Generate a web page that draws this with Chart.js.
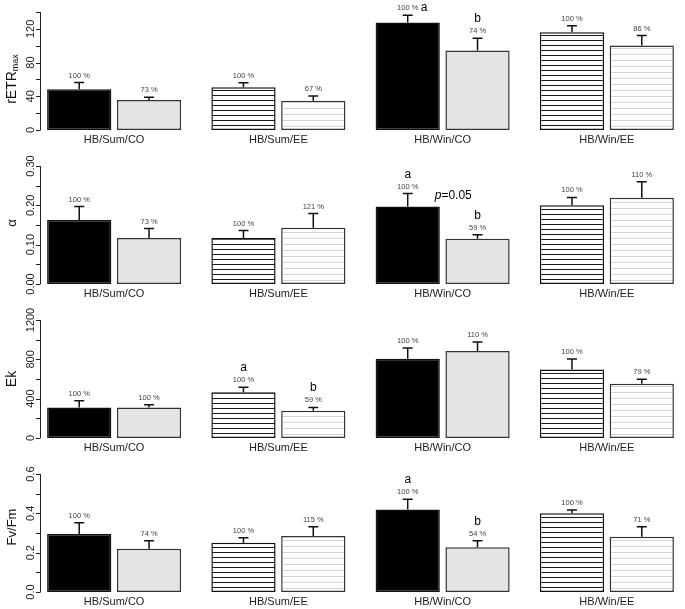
<!DOCTYPE html>
<html>
<head>
<meta charset="utf-8">
<script src="https://cdn.jsdelivr.net/npm/chart.js@4.4.0/dist/chart.umd.min.js"></script>
<style>
  html, body { margin:0; padding:0; background:#fff; overflow:hidden; }
  .panel { position:absolute; left:0; }
</style>
</head>
<body>
<canvas id="c1" class="panel" width="690" height="152" style="top:0px"></canvas>
<canvas id="c2" class="panel" width="690" height="152" style="top:154px"></canvas>
<canvas id="c3" class="panel" width="690" height="152" style="top:308px"></canvas>
<canvas id="c4" class="panel" width="690" height="152" style="top:462px"></canvas>
<script>
const groups = ['HB/Sum/CO', 'HB/Sum/EE', 'HB/Win/CO', 'HB/Win/EE'];
const basePct = ['100 %', '100 %', '100 %', '100 %'];

// rETRmax
const retrA = [48.3, 50.7, 127.5, 116.0];
const retrAErr = [8.0, 5.5, 8.7, 7.6];
const retrB = [35.6, 34.8, 94.2, 100.2];
const retrBErr = [3.2, 5.6, 14.7, 11.8];
const retrPct = ['73 %', '67 %', '74 %', '86 %'];
const retrTicks = [0, 20, 40, 60, 80, 100, 120, 140];
const retrLabels = ['0', '', '40', '', '80', '', '120', ''];

// alpha
const alphaA = [0.163, 0.117, 0.197, 0.200];
const alphaAErr = [0.034, 0.019, 0.033, 0.020];
const alphaB = [0.117, 0.143, 0.115, 0.219];
const alphaBErr = [0.024, 0.036, 0.010, 0.041];
const alphaPct = ['73 %', '121 %', '59 %', '110 %'];
const alphaTicks = [0, 0.05, 0.10, 0.15, 0.20, 0.25, 0.30];
const alphaLabels = ['0.00', '', '0.10', '', '0.20', '', '0.30'];

// Ek
const ekA = [311, 465, 807, 697];
const ekAErr = [69, 51, 109, 106];
const ekB = [311, 277, 885, 551];
const ekBErr = [27, 34, 92, 47];
const ekPct = ['100 %', '59 %', '110 %', '79 %'];
const ekTicks = [0, 200, 400, 600, 800, 1000, 1200];
const ekLabels = ['0', '', '400', '', '800', '', '1200'];

// Fv/Fm
const fvA = [0.295, 0.251, 0.420, 0.400];
const fvAErr = [0.057, 0.025, 0.051, 0.017];
const fvB = [0.220, 0.285, 0.227, 0.281];
const fvBErr = [0.041, 0.047, 0.034, 0.051];
const fvPct = ['74 %', '115 %', '54 %', '71 %'];
const fvTicks = [0, 0.1, 0.2, 0.3, 0.4, 0.5, 0.6];
const fvLabels = ['0.0', '', '0.2', '', '0.4', '', '0.6'];

const FONT = '"Liberation Sans", Arial, sans-serif';

function stripes(color, gap){
    const c = document.createElement('canvas');
    c.width = 8; c.height = gap;
    const x = c.getContext('2d');
    x.fillStyle = '#fff';
    x.fillRect(0, 0, 8, gap);
    x.fillStyle = color;
    x.fillRect(0, 0, 8, 1);
    return x.createPattern(c, 'repeat');
}

const darkStripe = stripes('#1a1a1a', 5);
const lightStripe = stripes('#d4d4d4', 6);
const fillA = ['#000000', darkStripe, '#000000', darkStripe];
const fillB = ['#e4e4e4', lightStripe, '#e4e4e4', lightStripe];

function decor(cfg){
    return {
        id: 'decor',
        afterDatasetsDraw(chart){
            const ctx = chart.ctx;
            const y = chart.scales.y;
            const area = chart.chartArea;
            ctx.save();

            // error bars, percent labels, letters
            [0, 1].forEach(d => {
                const meta = chart.getDatasetMeta(d);
                const vals = chart.data.datasets[d].data;
                meta.data.forEach((bar, i) => {
                    const top = y.getPixelForValue(vals[i] + cfg.err[d][i]);
                    ctx.strokeStyle = '#111';
                    ctx.lineWidth = 1.5;
                    ctx.beginPath();
                    ctx.moveTo(bar.x, bar.y);
                    ctx.lineTo(bar.x, top);
                    ctx.moveTo(bar.x - 5, top);
                    ctx.lineTo(bar.x + 5, top);
                    ctx.stroke();

                    const base = top - 5;
                    ctx.fillStyle = '#444';
                    ctx.font = '7.5px ' + FONT;
                    ctx.textAlign = 'center';
                    ctx.textBaseline = 'alphabetic';
                    ctx.fillText(cfg.pct[d][i], bar.x, base);

                    const letter = cfg.letters[d][i];
                    if(letter){
                        ctx.font = '12px ' + FONT;
                        ctx.fillStyle = '#000';
                        if(cfg.inline && cfg.inline[d] === i){
                            ctx.textAlign = 'left';
                            ctx.fillText(letter, bar.x + 13, base + 1);
                        } else {
                            ctx.fillText(letter, bar.x, base - 11);
                        }
                    }
                });
            });

            // p value note
            if(cfg.note){
                const bar = chart.getDatasetMeta(0).data[cfg.note.index];
                const v = chart.data.datasets[0].data[cfg.note.index] + cfg.err[0][cfg.note.index];
                const ny = y.getPixelForValue(v) + 5;
                ctx.fillStyle = '#000';
                ctx.textAlign = 'left';
                ctx.font = 'italic 12px ' + FONT;
                const nx = bar.x + 27;
                ctx.fillText('p', nx, ny);
                const pw = ctx.measureText('p').width;
                ctx.font = '12px ' + FONT;
                ctx.fillText(cfg.note.text, nx + pw, ny);
            }

            // R style y axis
            const axisX = 40;
            ctx.strokeStyle = '#222';
            ctx.lineWidth = 1;
            ctx.beginPath();
            ctx.moveTo(axisX + 0.5, y.getPixelForValue(cfg.ticks[0]));
            ctx.lineTo(axisX + 0.5, y.getPixelForValue(cfg.ticks[cfg.ticks.length - 1]));
            cfg.ticks.forEach(t => {
                const ty = Math.round(y.getPixelForValue(t)) + 0.5;
                ctx.moveTo(axisX + 0.5, ty);
                ctx.lineTo(axisX - 4, ty);
            });
            ctx.stroke();

            ctx.fillStyle = '#222';
            ctx.font = '11px ' + FONT;
            ctx.textAlign = 'center';
            ctx.textBaseline = 'middle';
            cfg.ticks.forEach((t, k) => {
                if(!cfg.tickLabels[k]) return;
                ctx.save();
                ctx.translate(31, y.getPixelForValue(t));
                ctx.rotate(-Math.PI / 2);
                ctx.fillText(cfg.tickLabels[k], 0, 0);
                ctx.restore();
            });

            // axis title
            const cy = (area.top + area.bottom) / 2 + (cfg.titleShift || 0);
            ctx.save();
            ctx.translate(12, cy);
            ctx.rotate(-Math.PI / 2);
            ctx.fillStyle = '#111';
            ctx.textBaseline = 'middle';
            ctx.textAlign = 'left';
            ctx.font = cfg.titleSize + 'px ' + FONT;
            const w1 = ctx.measureText(cfg.title).width;
            let w2 = 0;
            if(cfg.sub){
                ctx.font = '9px ' + FONT;
                w2 = ctx.measureText(cfg.sub).width;
            }
            const x0 = -(w1 + w2) / 2;
            ctx.font = cfg.titleSize + 'px ' + FONT;
            ctx.fillText(cfg.title, x0, 0);
            if(cfg.sub){
                ctx.font = '9px ' + FONT;
                ctx.fillText(cfg.sub, x0 + w1, 4);
            }
            ctx.restore();

            ctx.restore();
        }
    };
}

function makePanel(id, a, b, cfg){
    new Chart(document.getElementById(id), {
        type: 'bar',
        data: {
            labels: groups,
            datasets: [
                {data: a, backgroundColor: fillA, borderColor: '#111', borderWidth: 1.5, borderSkipped: false},
                {data: b, backgroundColor: fillB, borderColor: '#333', borderWidth: 1.5, borderSkipped: false}
            ]
        },
        options: {
            responsive: false,
            animation: false,
            events: [],
            layout: {padding: {left: 32, right: 1, top: 12, bottom: 2}},
            datasets: {bar: {categoryPercentage: 0.85, barPercentage: 0.92}},
            plugins: {legend: {display: false}, tooltip: {enabled: false}},
            scales: {
                x: {
                    grid: {display: false, drawTicks: false},
                    border: {display: false},
                    ticks: {color: '#222', font: {family: FONT, size: 11}, padding: 3, maxRotation: 0, autoSkip: false},
                    afterFit(s){ s.height = 20; }
                },
                y: {display: false, min: 0, max: cfg.ticks[cfg.ticks.length - 1]}
            }
        },
        plugins: [decor(cfg)]
    });
}

makePanel('c1', retrA, retrB, {
    err: [retrAErr, retrBErr], pct: [basePct, retrPct],
    letters: [['', '', 'a', ''], ['', '', 'b', '']], inline: [2, -1],
    ticks: retrTicks, tickLabels: retrLabels,
    title: 'rETR', sub: 'max', titleSize: 14, titleShift: 8
});

makePanel('c2', alphaA, alphaB, {
    err: [alphaAErr, alphaBErr], pct: [basePct, alphaPct],
    letters: [['', '', 'a', ''], ['', '', 'b', '']],
    ticks: alphaTicks, tickLabels: alphaLabels,
    title: 'α', titleSize: 13, titleShift: -2,
    note: {index: 2, text: '=0.05'}
});

makePanel('c3', ekA, ekB, {
    err: [ekAErr, ekBErr], pct: [basePct, ekPct],
    letters: [['', 'a', '', ''], ['', 'b', '', '']],
    ticks: ekTicks, tickLabels: ekLabels,
    title: 'Ek', titleSize: 14
});

makePanel('c4', fvA, fvB, {
    err: [fvAErr, fvBErr], pct: [basePct, fvPct],
    letters: [['', '', 'a', ''], ['', '', 'b', '']],
    ticks: fvTicks, tickLabels: fvLabels,
    title: 'Fv/Fm', titleSize: 13, titleShift: -6
});
</script>
</body>
</html>
